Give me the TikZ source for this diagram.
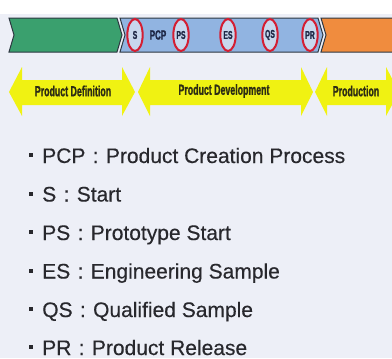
\documentclass[tikz,border=0pt]{standalone}
\usepackage{fontspec}
\setmainfont[FakeBold=0.35]{Liberation Sans}
\newfontfamily\narrowbold[FakeStretch=0.6, FakeBold=1.2]{Liberation Sans Bold}
\usetikzlibrary{shapes.geometric}

\definecolor{pagebg}{RGB}{237,239,247}
\definecolor{chevline}{RGB}{45,55,65}
\definecolor{defgreen}{RGB}{58,160,110}
\definecolor{devblue}{RGB}{145,180,225}
\definecolor{prodorange}{RGB}{240,140,62}
\definecolor{msred}{RGB}{212,30,50}
\definecolor{msfill}{RGB}{200,216,238}
\definecolor{navytext}{RGB}{30,40,70}
\definecolor{phaseyellow}{RGB}{240,242,18}
\definecolor{olivetext}{RGB}{45,45,20}
\definecolor{itemtext}{RGB}{40,40,45}

\newcommand{\sep}{\hspace{5.5pt}:\hspace{5.5pt}}

\begin{document}
\begin{tikzpicture}[x=0.75pt,y=-0.75pt,
  chev/.style={draw=chevline, line width=0.75pt, line join=miter},
  milestone/.style={ellipse, draw=msred, line width=1.5pt, fill=msfill,
    minimum width=11.5pt, minimum height=24pt, inner sep=0pt,
    font=\narrowbold\fontsize{8.5}{9}\selectfont, text=navytext},
  barlabel/.style={inner sep=0pt,
    font=\narrowbold\fontsize{10}{11}\selectfont, text=navytext},
  phase/.style={fill=phaseyellow},
  phaselabel/.style={inner sep=0pt,
    font=\narrowbold\fontsize{11}{12}\selectfont, text=olivetext},
  item/.style={anchor=base west, inner sep=0pt,
    font=\fontsize{15.75}{18}\selectfont, text=itemtext},
  sq/.style={fill=itemtext, minimum size=3pt, inner sep=0pt}
]
% page
\useasboundingbox (0,0) rectangle (392,358);
\fill[white] (0,0) rectangle (392,14);
\fill[pagebg] (0,14) rectangle (392,358);

% process bar
\filldraw[chev, fill=defgreen]
  (9,18) -- (117,18) -- (122,35) -- (117,52) -- (9,52) -- (14,35) -- cycle;
\filldraw[chev, fill=devblue]
  (120,18) -- (318,18) -- (323,35) -- (318,52) -- (120,52) -- (125,35) -- cycle;
\filldraw[chev, fill=prodorange]
  (321,18) -- (400,18) -- (400,52) -- (321,52) -- (326,35) -- cycle;

\node[milestone] (s)  at (135,35) {S};
\node[barlabel]  (pcp) at (158,35) {PCP};
\node[milestone] (ps) at (181,35) {PS};
\node[milestone] (es) at (228,35) {ES};
\node[milestone] (qs) at (270,35) {QS};
\node[milestone] (pr) at (310,35) {PR};

% phase arrows
\fill[phase] (9,92) -- (22,67) -- (22,80) -- (122,80) -- (122,67) -- (135,92)
  -- (122,116) -- (122,105) -- (22,105) -- (22,116) -- cycle;
\fill[phase] (138,92) -- (150,67) -- (150,80) -- (301,80) -- (301,67) -- (313,92)
  -- (301,116) -- (301,105) -- (150,105) -- (150,116) -- cycle;
\fill[phase] (315,92) -- (327,67) -- (327,80) -- (386,80) -- (386,67) -- (399,92)
  -- (386,116) -- (386,105) -- (327,105) -- (327,116) -- cycle;

\node[phaselabel] (pdef)  at (73,91)  {Product Definition};
\node[phaselabel] (pdev)  at (224,91) {Product Development};
\node[phaselabel] (pprod) at (356,91) {Production};

% legend
\node[sq] (b1) at (30.5,155)   {};
\node[item] (l1) at (42,163)   {PCP\sep Product Creation Process};
\node[sq] (b2) at (30.5,193.5) {};
\node[item] (l2) at (42,201.5) {S\sep Start};
\node[sq] (b3) at (30.5,232)   {};
\node[item] (l3) at (42,240)   {PS\sep Prototype Start};
\node[sq] (b4) at (30.5,270.5) {};
\node[item] (l4) at (42,278.5) {ES\sep Engineering Sample};
\node[sq] (b5) at (30.5,309)   {};
\node[item] (l5) at (42,317)   {QS\sep Qualified Sample};
\node[sq] (b6) at (30.5,347)   {};
\node[item] (l6) at (42,355)   {PR\sep Product Release};
\end{tikzpicture}
\end{document}
